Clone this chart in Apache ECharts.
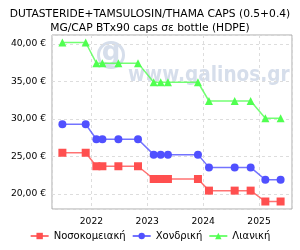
<!DOCTYPE html>
<html><head><meta charset="utf-8">
<script src="https://cdn.jsdelivr.net/npm/echarts@6/dist/echarts.min.js"></script>
<style>html,body{margin:0;padding:0;background:#fff}#c{width:300px;height:250px}</style>
</head><body><div id="c"></div>
<script>
const titleLines = ['DUTASTERIDE+TAMSULOSIN/THAMA CAPS (0.5+0.4)', 'MG/CAP BTx90 caps σε bottle (HDPE)'];
const dates = [2021.481, 2021.898, 2022.089, 2022.197, 2022.483, 2022.834, 2023.115, 2023.240, 2023.370, 2023.907, 2024.104, 2024.564, 2024.850, 2025.113, 2025.386];
const hospital = [25.5, 25.5, 23.7, 23.7, 23.7, 23.7, 22.0, 22.0, 22.0, 22.0, 20.45, 20.45, 20.45, 19.0, 19.0];
const wholesale = [29.3, 29.3, 27.3, 27.3, 27.3, 27.3, 25.25, 25.25, 25.25, 25.25, 23.55, 23.55, 23.55, 21.9, 21.9];
const retail = [40.2, 40.2, 37.45, 37.45, 37.45, 37.45, 34.9, 34.9, 34.9, 34.9, 32.4, 32.4, 32.4, 30.1, 30.1];
const seriesNames = ['Νοσοκομειακή', 'Χονδρική', 'Λιανική'];
const watermark = 'www.galinos.gr';

const FONT = 'DejaVu Sans';
const colors = ['#ff4f4f', '#5050ff', '#50ff50'];
const symbols = ['rect', 'circle', 'triangle'];
const values = [hospital, wholesale, retail];
const wmColor = '#d6deeb';

const chart = echarts.init(document.getElementById('c'), null, {renderer: 'canvas'});
chart.setOption({
  animation: false,
  textStyle: {fontFamily: FONT},
  title: {
    text: titleLines.join('\n'), left: 'center', top: 2,
    textStyle: {fontFamily: FONT, fontSize: 10.7, fontWeight: 'normal', color: '#000', lineHeight: 14}
  },
  graphic: [
    {type: 'circle', shape: {cx: 111, cy: 55, r: 12.5}, z: 0, silent: true,
     style: {fill: 'none', stroke: wmColor, lineWidth: 3}},
    {type: 'text', x: 111, y: 53, z: 0, silent: true,
     style: {text: 'g', fontFamily: FONT, fontSize: 26, fontWeight: 'bold', fill: wmColor, align: 'center', verticalAlign: 'middle'}},
    {type: 'text', x: 128, y: 64, scaleX: 0.84, z: 0, silent: true,
     style: {text: watermark, fontFamily: FONT, fontSize: 22, fontWeight: 'bold', fill: wmColor, verticalAlign: 'alphabetic'}}
  ],
  legend: {
    bottom: 4, left: 'center', itemWidth: 18, itemHeight: 8, itemGap: 6,
    textStyle: {fontFamily: FONT, fontSize: 10, color: '#000'},
    data: seriesNames
  },
  grid: {left: 52, right: 8, top: 35, bottom: 41, show: true, borderColor: '#aaa', borderWidth: 1, containLabel: false},
  xAxis: {
    type: 'value', min: 2021.295, max: 2025.59, splitNumber: 5,
    axisLine: {show: false}, axisTick: {show: false},
    axisLabel: {showMinLabel: false, showMaxLabel: false, fontFamily: FONT, fontSize: 9.2, color: '#000', margin: 8,
      formatter: v => String(Math.round(v))},
    splitLine: {show: true, lineStyle: {color: '#ddd', type: [3, 3]}}
  },
  yAxis: {
    type: 'value', min: 18, max: 41.2, splitNumber: 5,
    axisLine: {show: false}, axisTick: {show: false},
    axisLabel: {showMinLabel: false, showMaxLabel: false, fontFamily: FONT, fontSize: 9.2, color: '#000', margin: 6,
      formatter: v => v.toFixed(2).replace('.', ',') + ' €'},
    splitLine: {show: true, lineStyle: {color: '#ddd', type: [3, 3]}}
  },
  series: seriesNames.map((n, i) => ({
    name: n, type: 'line', symbol: symbols[i], symbolSize: 8, z: 3,
    itemStyle: {color: colors[i]},
    lineStyle: {color: colors[i], width: 1.5, opacity: 0.8},
    data: dates.map((d, k) => [d, values[i][k]])
  }))
});
</script></body></html>
